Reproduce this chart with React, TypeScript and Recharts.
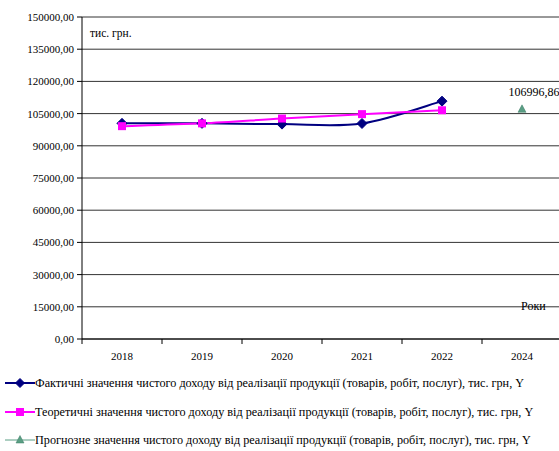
import { LineChart, Line, XAxis, YAxis, CartesianGrid, LabelList } from 'recharts';

const years = ['2018', '2019', '2020', '2021', '2022', '2024'];
const actual = [100450, 100450, 100100, 100400, 110800, null];
const theoretical = [99150, 100450, 102700, 104750, 106550, null];
const forecast = [null, null, null, null, null, 106996.86];
const yTicks = [0, 15000, 30000, 45000, 60000, 75000, 90000, 105000, 120000, 135000, 150000];

const seriesNames = [
  'Фактичні значення чистого доходу від реалізації продукції (товарів, робіт, послуг), тис. грн, Y',
  'Теоретичні значення чистого доходу від реалізації продукції (товарів, робіт, послуг), тис. грн, Y',
  'Прогнозне значення чистого доходу від реалізації продукції (товарів, робіт, послуг), тис. грн, Y',
];

const data = years.map((year, i) => ({
  year,
  actual: actual[i],
  theoretical: theoretical[i],
  forecast: forecast[i],
}));

const FONT = '"Liberation Serif", "Times New Roman", serif';
const NAVY = '#000080';
const MAGENTA = '#ff00ff';
const GREEN = '#5a9e84';

const CHART_W = 562;
const CHART_H = 369;
const Y_AXIS_W = 82;
const BAND = (CHART_W - Y_AXIS_W) / years.length;

const fmt = (v: number) => v.toFixed(2).replace('.', ',');

// Catmull-Rom style smoothing (control points at 1/6 of neighbour span)
function smoothCurve(context: any) {
  let pts: number[][] = [];
  return {
    areaStart() {},
    areaEnd() {},
    lineStart() {
      pts = [];
    },
    point(x: number, y: number) {
      pts.push([+x, +y]);
    },
    lineEnd() {
      if (!pts.length) return;
      context.moveTo(pts[0][0], pts[0][1]);
      for (let i = 0; i < pts.length - 1; i++) {
        const p0 = pts[i - 1] || pts[i];
        const p1 = pts[i];
        const p2 = pts[i + 1];
        const p3 = pts[i + 2] || p2;
        context.bezierCurveTo(
          p1[0] + (p2[0] - p0[0]) / 6,
          p1[1] + (p2[1] - p0[1]) / 6,
          p2[0] - (p3[0] - p1[0]) / 6,
          p2[1] - (p3[1] - p1[1]) / 6,
          p2[0],
          p2[1],
        );
      }
    },
  };
}

function Diamond({ cx, cy, size = 5 }: any) {
  if (cx == null || cy == null) return null;
  return (
    <polygon
      points={`${cx},${cy - size} ${cx + size},${cy} ${cx},${cy + size} ${cx - size},${cy}`}
      fill={NAVY}
      stroke={NAVY}
    />
  );
}

function Square({ cx, cy, size = 4 }: any) {
  if (cx == null || cy == null) return null;
  return <rect x={cx - size} y={cy - size} width={size * 2} height={size * 2} fill={MAGENTA} />;
}

function Triangle({ cx, cy }: any) {
  if (cx == null || cy == null) return null;
  return (
    <polygon
      points={`${cx},${cy - 4.5} ${cx + 4},${cy + 3} ${cx - 4},${cy + 3}`}
      fill={GREEN}
      stroke="#3f7d66"
      strokeWidth={0.5}
    />
  );
}

function YearTick({ x, y, payload }: any) {
  const left = x - BAND / 2;
  return (
    <g>
      <line x1={left} y1={y} x2={left} y2={y + 5} stroke="#000" />
      <text x={x} y={y + 21} textAnchor="middle" style={{ fontSize: 11, fontFamily: FONT }} fill="#000">
        {payload.value}
      </text>
    </g>
  );
}

function ValueTick({ x, y, payload }: any) {
  return (
    <text x={x} y={y} dy="0.36em" textAnchor="end" style={{ fontSize: 11, fontFamily: FONT }} fill="#000">
      {fmt(payload.value)}
    </text>
  );
}

function ForecastLabel({ x, y, value }: any) {
  if (value == null) return null;
  return (
    <text x={x + 12} y={y - 13} textAnchor="middle" style={{ fontSize: 12, fontFamily: FONT }} fill="#000">
      {fmt(value)}
    </text>
  );
}

function LegendRow({ name, color, marker, width, top }: any) {
  return (
    <div style={{ position: 'absolute', left: 4, top, height: 16, display: 'flex', alignItems: 'center', whiteSpace: 'nowrap' }}>
      <svg width={31} height={14}>
        <line x1={1} y1={7} x2={31} y2={7} stroke={color} strokeWidth={width} />
        {marker === 'diamond' && <Diamond cx={16} cy={7} size={4.5} />}
        {marker === 'square' && <Square cx={16} cy={7} size={4} />}
        {marker === 'triangle' && <Triangle cx={16} cy={7} />}
      </svg>
      <span style={{ fontFamily: FONT, fontSize: 12.2, color: '#000' }}>{name}</span>
    </div>
  );
}

export default function App() {
  return (
    <div
      style={{
        position: 'absolute',
        left: 0,
        top: 0,
        width: 559,
        height: 451,
        overflow: 'hidden',
        background: '#fff',
      }}
    >
      <LineChart width={CHART_W} height={CHART_H} data={data} margin={{ top: 17, right: 0, left: 0, bottom: 0 }}>
        <CartesianGrid vertical={false} stroke="#333" />
        <XAxis
          dataKey="year"
          scale="band"
          axisLine={{ stroke: '#000' }}
          tickLine={false}
          tickSize={0}
          tickMargin={0}
          tick={<YearTick />}
          interval={0}
        />
        <YAxis
          width={Y_AXIS_W}
          domain={[0, 150000]}
          ticks={yTicks}
          interval={0}
          axisLine={{ stroke: '#000' }}
          tickLine={{ stroke: '#000' }}
          tickSize={5}
          tickMargin={3}
          tick={<ValueTick />}
        />
        <Line
          dataKey="actual"
          type={smoothCurve as any}
          stroke={NAVY}
          strokeWidth={2}
          dot={(p: any) => <Diamond key={`a${p.index}`} cx={p.cx} cy={p.cy} />}
          isAnimationActive={false}
        />
        <Line
          dataKey="theoretical"
          type={smoothCurve as any}
          stroke={MAGENTA}
          strokeWidth={2}
          dot={(p: any) => <Square key={`t${p.index}`} cx={p.cx} cy={p.cy} />}
          isAnimationActive={false}
        />
        <Line
          dataKey="forecast"
          stroke={GREEN}
          strokeWidth={1}
          dot={(p: any) => <Triangle key={`f${p.index}`} cx={p.cx} cy={p.cy} />}
          isAnimationActive={false}
        >
          <LabelList dataKey="forecast" content={<ForecastLabel />} />
        </Line>
      </LineChart>

      <div style={{ position: 'absolute', left: 90, top: 27, fontFamily: FONT, fontSize: 11.5 }}>тис. грн.</div>
      <div style={{ position: 'absolute', left: 521, top: 299, fontFamily: FONT, fontSize: 12 }}>Роки</div>

      <LegendRow name={seriesNames[0]} color={NAVY} marker="diamond" width={2} top={375} />
      <LegendRow name={seriesNames[1]} color={MAGENTA} marker="square" width={2} top={404} />
      <LegendRow name={seriesNames[2]} color={GREEN} marker="triangle" width={1} top={432} />
    </div>
  );
}
